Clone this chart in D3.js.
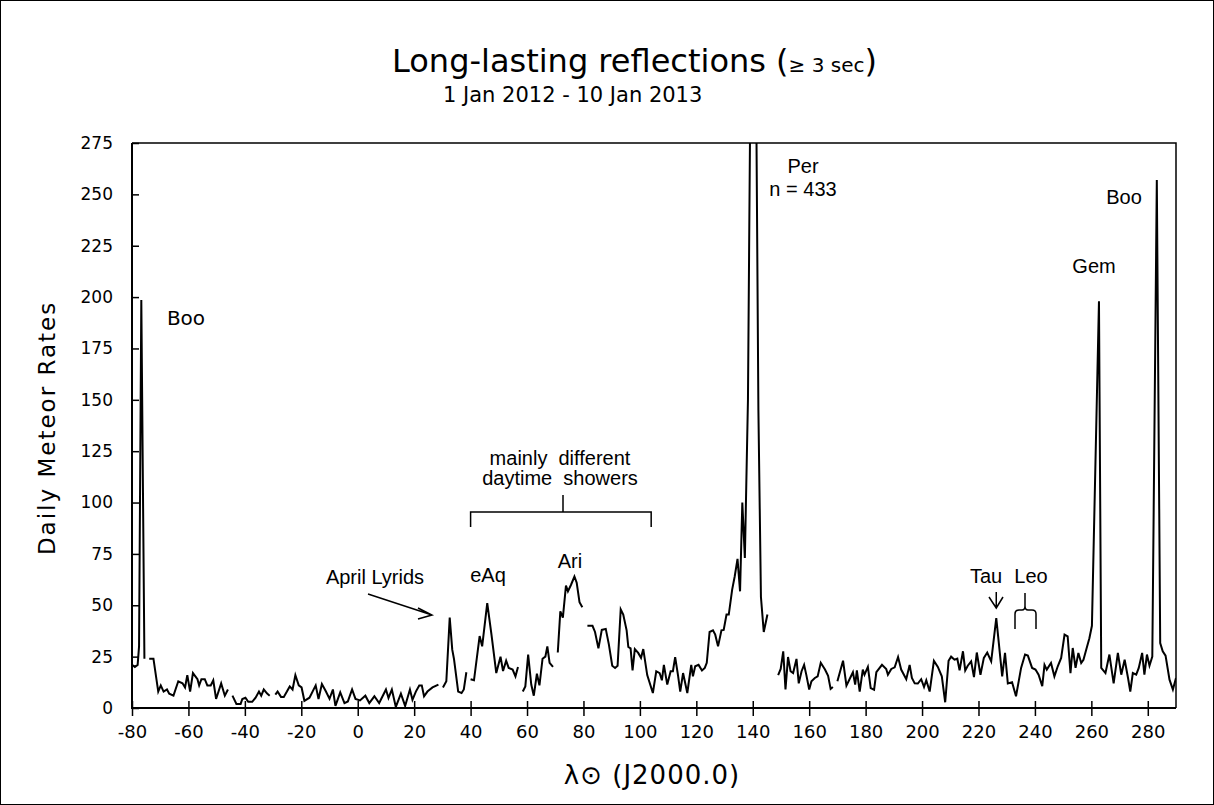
<!DOCTYPE html>
<html>
<head>
<meta charset="utf-8">
<script src="https://cdnjs.cloudflare.com/ajax/libs/d3/7.8.5/d3.min.js"></script>
<style>
body { margin: 0; background: #fff; }
svg text { fill: #000; }
.verd { font-family: "DejaVu Sans", Verdana, sans-serif; }
.ari { font-family: "Liberation Sans", Arial, sans-serif; }
</style>
</head>
<body>
<div id="canvas-container"></div>
<script>
// solar longitude (deg) and daily rates, null = no data
var lambda = [
  -80, -79, -78, -77.5, -76.7, -75.6, -74.8,
  -73.9, -72.4, -70.7, -69.8, -68.8, -67.6, -66.8, -65.3, -63.6, -62.1, -61.2, -60.4,
  -59.4, -58.4, -56.8, -56.2, -55.4, -54.2, -53.3, -52.1, -51.2, -50.2, -48.4, -47.1, -46.0, -45.2,
  -44.4, -43.0, -41.5, -40.9, -39.8, -38.8, -37.4, -36.2, -35.0, -34.2, -33.3, -32.1, -31.2, -30.2,
  -29.2, -28.4, -27.2, -26.2, -25.1, -24.1, -23.1, -22.1, -20.9, -19.9, -18.9, -17.1, -14.9,
  -13.9, -12.7, -11.4, -10.0, -8.8, -7.9, -6.2, -4.7, -3.5, -2.0, -0.8, 0.8, 2.7, 4.1, 5.9, 7.6,
  10.0, 10.9, 12.1, 13.5, 15.3, 16.8, 18.5, 19.4, 20.6, 21.8, 22.7, 23.5, 24.7, 26.5, 28.6, 29.4,
  30.2, 31.4, 32.6, 33.5, 34.1, 35.6, 36.8, 37.6, 38.5, 39.2,
  40.0, 41.2, 43.2, 44.1, 45.9, 47.4, 49.1, 50.6, 51.5, 52.6, 53.5, 54.9, 55.9, 56.8, 57.6,
  58.5, 59.4, 60.4, 61.5, 62.4, 63.5, 64.4, 65.5, 66.5, 67.2, 68.0, 69.2, 70.0,
  70.9, 71.8, 72.7, 73.8, 74.5, 75.6, 76.8, 77.6, 78.6, 79.6, 80.5,
  81.4, 83.2, 84.1, 85.3, 86.5, 87.9, 89.0, 90.2, 91.2, 92.1, 93.2, 94.1, 95.3, 95.9, 96.7,
  97.4, 98.2, 99.4, 100.4, 101.2, 102.6, 104.6, 105.8, 107.0, 107.8, 108.5, 109.7, 110.9,
  111.7, 112.5, 113.5, 114.3, 115.3, 116.8, 118.2, 118.8, 119.6, 120.8, 122.0, 123.0, 123.7,
  124.7, 125.9, 126.7, 127.7, 128.9, 129.7, 130.7, 131.5, 132.7, 133.6, 134.6, 135.5, 136.3,
  137.2, 138.3, 139.9, 141.0, 142.0, 142.9, 143.9, 145.2, 147,
  149.0, 149.9, 150.8, 151.6, 152.5, 153.4, 154.3, 155.5, 156.3, 157.3, 158.2, 159.0, 160.0,
  160.8, 162.0, 163.0, 164.1, 165.6, 166.7, 167.6, 168.4, 169.2,
  170.0, 172.0, 173.2, 174.3, 175.5, 176.3, 176.9, 177.9, 179.0, 179.6, 180.8, 181.8, 183.0,
  183.8, 185.8, 187.3, 187.9, 189.1, 190.3, 191.5, 192.6, 194.4, 195.6, 196.4, 197.4, 198.5,
  199.7, 200.7, 201.5, 202.7, 204.2, 205.6, 207.0, 208.2, 209.4, 210.3, 211.5, 212.5, 213.3,
  214.5, 215.3, 216.2, 217.4, 218.4, 219.4, 220.7, 221.9, 223.1, 224.5, 226.3, 227.2, 228.4,
  229.4, 230.4, 231.9, 233.3, 235.1, 236.5, 237.5, 239.0, 240.2, 241.3, 242.6, 243.4, 244.2,
  245.7, 246.9, 248.1, 249.3, 250.5, 251.6, 252.6, 253.4, 254.4, 255.4, 256.4, 257.2, 258.1,
  259.3, 260.2, 262.7, 263.5, 265.0, 266.4, 267.9, 269.4, 270.6, 271.8, 273.0, 273.8, 274.7,
  275.9, 276.8, 278.0, 278.8, 279.7, 280.6, 281.6, 283.2, 284.4, 285.3, 286.3, 287.7, 288.9, 290.0
];
var rate = [
  21, 20, 21, 30, 198.6, 24, null,
  24, 24, 8, 11, 8, 9, 7, 6, 13, 12, 10, 16,
  8, 17, 14, 11, 14, 14, 11, 11, 13.5, 4.4, 12, 6, 9, null,
  6, 2, 2, 4.4, 5, 3, 3, 5, 8, 6, 9, 7, 6, null,
  6.5, 8, 5.4, 5.4, 8, 10.5, 9, 16, 11, 10, 3.5, 5, 11,
  4.4, 11.7, 8.4, 4.5, 9, 1, 7.6, 2.4, 3.2, 9, 4.4, 3.7, 6, 2.4, 5.7, 2.4,
  9, 4.9, 9, 0.5, 7, 1, 9, 4, 8, 11, 11, 5.7, 8, 10, 11.4, null,
  10, 13, 44, 28.4, 24, 8, 7.3, 9, 17.4, null,
  14, 13.5, 35, 30, 51, 35.7, 17, 25, 18, 23, 19.5, 18.7, 15.4, 20, null,
  8, 10.5, 26, 11.4, 6, 16.7, 11, 24, 25, 30, 22, 20, null,
  27, 47, 44, 59.6, 56.8, 60, 64, 61, 51.5, 49, null,
  40, 40, 37, 29, 38, 38.5, 31, 20.6, 19.5, 20.6, 48, 45.5, 37.8, 29.7, 29,
  18.3, 28.7, 26.8, 24.4, 28.7, 16, 7.3, 17.9, 17, 13.5, 21, 11.4, 17.9,
  17.9, 24.8, 16, 8, 17, 7.3, 21, 15.4, 20.3, 21, 18.3, 19.5, 22,
  37, 37.8, 35.7, 30, 37.8, 38, 45.5, 45.5, 57.6, 64, 72.6, 56.8, 100,
  73, 150, 433, 340, 145, 54, 37, 45.5, null,
  16, 19, 27.6, 9, 24.8, 17.9, 17, 23.9, 12, 17.9, 21, 16, 9,
  13, 14.6, 15.4, 22, 18.7, 15.7, 9.3, 10.2, null,
  13, 23, 10.9, 14, 17.4, 11.4, 18.3, 8, 18.7, 16.2, 20, 9.7, 8.9,
  17.4, 21, 19, 16.2, 19, 19.8, 24.8, 18.7, 14, 21, 14.6, 12, 11.9,
  14, 10.2, 13.5, 8, 23, 20, 15.4, 2.8, 23, 25, 23.5, 24, 18.3,
  27.6, 18.3, 20.6, 22.7, 15, 27, 16.2, 24.4, 27, 22.7, 43.8, 31.7, 15.4,
  26.8, 11.9, 12.5, 5.7, 19.5, 26, 25.5, 19.5, 18.7, 16.2, 10.6, 21, 18.7,
  21.9, 15.4, 20.3, 24.4, 35.7, 34.9, 17, 29.2, 19.5, 26.8, 21.9, 23.5, 28,
  34, 40, 198, 19.5, 17, 26, 12, 26.8, 16.2, 23.5, 14.6, 8, 17,
  16.2, 19.5, 26.8, 16.2, 26, 20.6, 25, 257, 31.6, 27.6, 25.5, 13.8, 9, 14.6
];

var xTicks = [-80, -60, -40, -20, 0, 20, 40, 60, 80, 100, 120, 140, 160, 180, 200, 220, 240, 260, 280];
var yTicks = [0, 25, 50, 75, 100, 125, 150, 175, 200, 225, 250, 275];

drawChart();

function drawChart() {
    var W = 1214, H = 805;
    var left = 132, right = 1176, top = 143, bottom = 708;

    var svg = d3.select("#canvas-container").append("svg")
        .attr("width", W)
        .attr("height", H);

    svg.append("rect")
        .attr("x", 0.5).attr("y", 0.5)
        .attr("width", W - 1).attr("height", H - 1)
        .attr("fill", "#fff").attr("stroke", "#000").attr("stroke-width", 1);

    var x = d3.scaleLinear().domain([-80, 290]).range([left, right]);
    var y = d3.scaleLinear().domain([0, 275]).range([bottom, top]);

    svg.append("clipPath").attr("id", "clip")
        .append("rect")
        .attr("x", left).attr("y", top)
        .attr("width", right - left).attr("height", bottom - top);

    // frame top and right
    svg.append("path")
        .attr("d", "M" + left + "," + top + "H" + right + "V" + bottom)
        .attr("fill", "none").attr("stroke", "#000").attr("stroke-width", 1.5);

    var pts = lambda.map(function (d, i) { return [d, rate[i]]; });
    var line = d3.line()
        .defined(function (d) { return d[1] !== null; })
        .x(function (d) { return x(d[0]); })
        .y(function (d) { return y(d[1]); });

    svg.append("path")
        .datum(pts)
        .attr("clip-path", "url(#clip)")
        .attr("d", line)
        .attr("fill", "none")
        .attr("stroke", "#000")
        .attr("stroke-width", 2)
        .attr("stroke-linejoin", "miter");

    // x axis: major ticks cross the axis, minor every 5 below
    var gx = svg.append("g").attr("transform", "translate(0," + bottom + ")");
    gx.call(d3.axisBottom(x).tickValues(d3.range(-80, 291, 5)).tickSize(5).tickFormat(""))
        .call(function (g) { g.select(".domain").remove(); });
    gx.call(d3.axisBottom(x).tickValues(xTicks).tickSize(8).tickPadding(9)
            .tickFormat(function (d) { return d; }))
        .call(function (g) { g.select(".domain").remove(); });
    gx.selectAll(".tick line").attr("stroke", "#000").attr("stroke-width", 1.5);
    gx.selectAll(".tick").filter(function (d) { return xTicks.indexOf(d) >= 0; })
        .select("line").attr("y1", -7);
    gx.selectAll("text").attr("class", "verd").style("font-size", "18px").attr("fill", "#000");

    var gy = svg.append("g").attr("transform", "translate(" + left + ",0)");
    gy.call(d3.axisLeft(y).tickValues(d3.range(0, 276, 5)).tickSize(4).tickFormat(""))
        .call(function (g) { g.select(".domain").remove(); });
    gy.call(d3.axisLeft(y).tickValues(yTicks).tickSize(4).tickPadding(15)
            .tickFormat(function (d) { return d; }))
        .call(function (g) { g.select(".domain").remove(); });
    gy.selectAll(".tick line").attr("stroke", "#000").attr("stroke-width", 1.5);
    gy.selectAll(".tick").filter(function (d) { return yTicks.indexOf(d) >= 0; })
        .select("line").attr("x2", 7);
    gy.selectAll("text").attr("class", "verd").style("font-size", "17px").attr("fill", "#000");

    svg.append("path")
        .attr("d", "M" + left + "," + top + "V" + bottom + "H" + right)
        .attr("fill", "none").attr("stroke", "#000").attr("stroke-width", 2);

    // titles
    var t = svg.append("text").attr("class", "verd")
        .attr("x", 392).attr("y", 72).style("font-size", "32px");
    t.append("tspan").text("Long-lasting reflections (");
    t.append("tspan").style("font-size", "20px").text("\u2265 3 sec");
    t.append("tspan").text(")");

    svg.append("text").attr("class", "verd")
        .attr("x", 443).attr("y", 102).style("font-size", "21px")
        .text("1 Jan 2012 - 10 Jan 2013");

    svg.append("text").attr("class", "verd")
        .attr("transform", "translate(55,428) rotate(-90)")
        .attr("text-anchor", "middle").style("font-size", "23px")
        .style("letter-spacing", "2px")
        .text("Daily Meteor Rates");

    svg.append("text").attr("class", "verd")
        .attr("x", 652).attr("y", 784).attr("text-anchor", "middle").style("font-size", "26px")
        .style("letter-spacing", "1px")
        .text("\u03bb\u2299 (J2000.0)");

    // annotations
    function label(txt, cx, by, cls) {
        svg.append("text").attr("class", cls || "ari")
            .attr("x", cx).attr("y", by)
            .attr("text-anchor", "middle")
            .style("font-size", "20px")
            .style("white-space", "pre")
            .text(txt);
    }
    label("Boo", 186, 325, "verd");
    label("Per", 803, 173);
    label("n = 433", 803, 196);
    label("Boo", 1124, 204);
    label("Gem", 1094, 273);
    label("April Lyrids", 375, 584);
    label("eAq", 488, 582);
    label("Ari", 570, 568);
    label("mainly  different", 560, 465);
    label("daytime  showers", 560, 485);
    label("Tau", 986, 583);
    label("Leo", 1031, 583);

    var ann = svg.append("g").attr("fill", "none").attr("stroke", "#000").attr("stroke-width", 1.5);
    // April Lyrids arrow
    ann.append("path").attr("d", "M368,594L432,615M418,608L432,615L418,619");
    // daytime showers bracket
    ann.append("path").attr("d", "M" + x(40) + ",527V512H" + x(104) + "V527M563,512V495");
    // Tau arrow
    ann.append("path").attr("d", "M" + x(226.3) + ",592V608M989,597L" + x(226.3) + ",608L1003,597");
    // Leo brace
    ann.append("path").attr("d", "M1015,629V614Q1015,610 1019,610H1022Q1025,610 1025,606V593M1025,606Q1025,610 1028,610H1032Q1036,610 1036,614V629");
}
</script>
</body>
</html>
